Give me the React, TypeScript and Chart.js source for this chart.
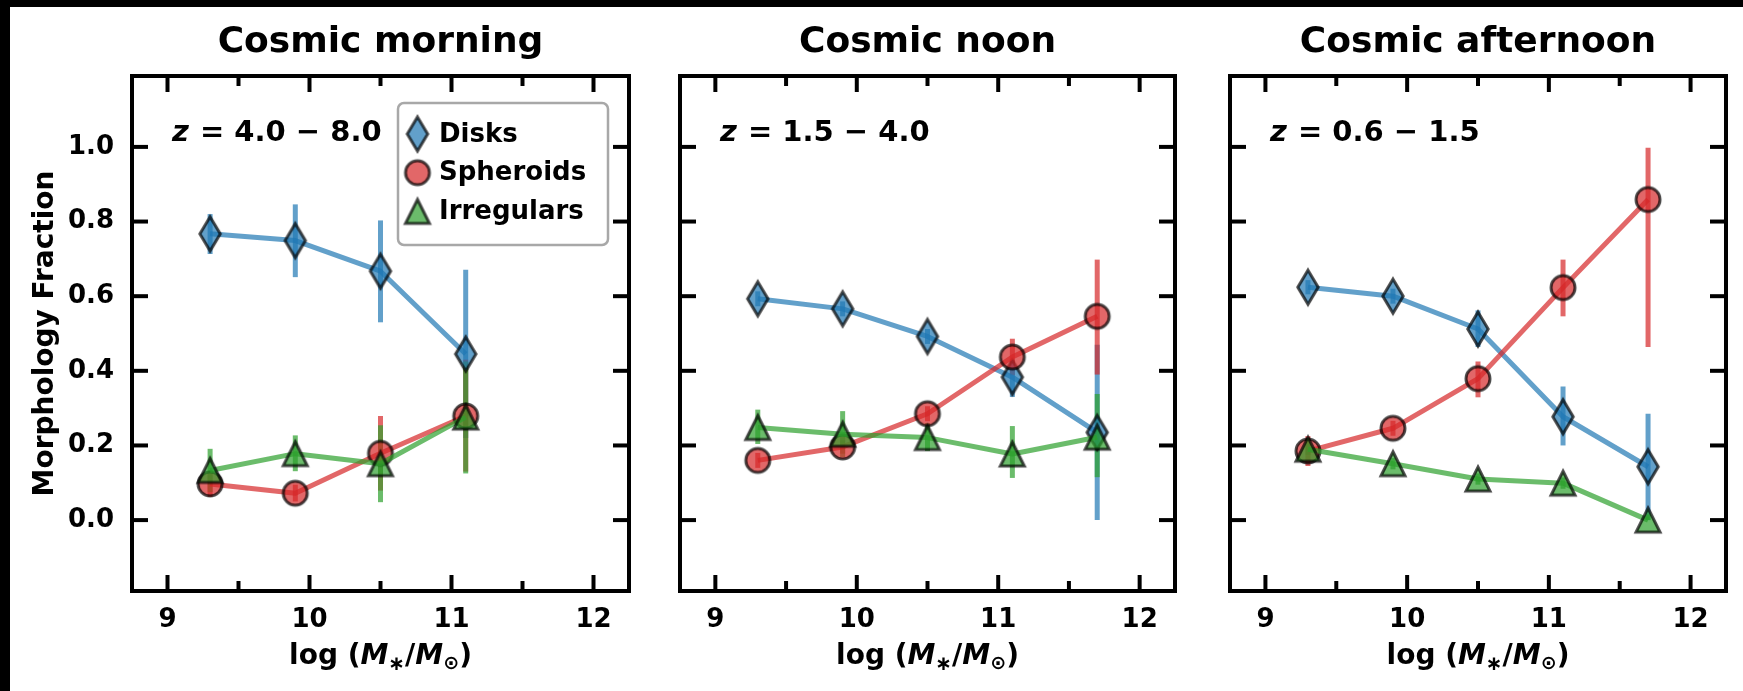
import React, { useEffect, useRef } from "react";
import { Chart, registerables } from "chart.js";
Chart.register(...registerables);

const FONT = "'DejaVu Sans', 'Liberation Sans', sans-serif";

// ---------- axes ----------
const massBins = [9.3, 9.9, 10.5, 11.1, 11.7];
const xMajorTicks = [9, 10, 11, 12];
const xMinorTicks = [9.5, 10.5, 11.5];
const yMajorTicks = [0, 0.2, 0.4, 0.6, 0.8, 1.0];
const xRange = [8.75, 12.25];
const yRange = [-0.19, 1.19];

// ---------- series ----------
const seriesNames = ["Disks", "Spheroids", "Irregulars"];
const seriesColors = ["31,119,180", "214,39,40", "44,160,44"];
const seriesMarkers = ["thinDiamond", "circle", "triangle"];

const panelTitles = ["Cosmic morning", "Cosmic noon", "Cosmic afternoon"];
const panelRedshifts = ["4.0 − 8.0", "1.5 − 4.0", "0.6 − 1.5"];

// Cosmic morning (z = 4.0 - 8.0)
const morningDisks = [0.767, 0.749, 0.667, 0.445];
const morningDisksLo = [0.713, 0.651, 0.53, 0.22];
const morningDisksHi = [0.82, 0.846, 0.803, 0.671];
const morningSpheroids = [0.097, 0.072, 0.179, 0.279];
const morningSpheroidsLo = [0.062, 0.05, 0.079, 0.13];
const morningSpheroidsHi = [0.132, 0.095, 0.279, 0.43];
const morningIrregulars = [0.133, 0.178, 0.151, 0.276];
const morningIrregularsLo = [0.075, 0.131, 0.048, 0.125];
const morningIrregularsHi = [0.191, 0.227, 0.254, 0.425];

// Cosmic noon (z = 1.5 - 4.0)
const noonDisks = [0.593, 0.566, 0.492, 0.383, 0.235];
const noonDisksLo = [0.573, 0.546, 0.472, 0.33, 0.0];
const noonDisksHi = [0.613, 0.586, 0.512, 0.43, 0.47];
const noonSpheroids = [0.16, 0.196, 0.285, 0.437, 0.546];
const noonSpheroidsLo = [0.14, 0.178, 0.265, 0.388, 0.39];
const noonSpheroidsHi = [0.18, 0.214, 0.305, 0.486, 0.698];
const noonIrregulars = [0.248, 0.23, 0.221, 0.177, 0.222];
const noonIrregularsLo = [0.204, 0.169, 0.185, 0.113, 0.115];
const noonIrregularsHi = [0.296, 0.292, 0.26, 0.252, 0.338];

// Cosmic afternoon (z = 0.6 - 1.5)
const afternoonDisks = [0.624, 0.6, 0.512, 0.277, 0.143];
const afternoonDisksLo = [0.605, 0.58, 0.464, 0.2, 0.0];
const afternoonDisksHi = [0.643, 0.62, 0.562, 0.358, 0.285];
const afternoonSpheroids = [0.185, 0.246, 0.379, 0.623, 0.859];
const afternoonSpheroidsLo = [0.145, 0.226, 0.329, 0.546, 0.464];
const afternoonSpheroidsHi = [0.225, 0.266, 0.425, 0.698, 0.998];
const afternoonIrregulars = [0.19, 0.151, 0.11, 0.099, 0.0];
const afternoonIrregularsLo = [0.175, 0.136, 0.095, 0.084, 0.0];
const afternoonIrregularsHi = [0.205, 0.166, 0.125, 0.114, 0.015];

const panelSeries = [
  [
    [morningDisks, morningDisksLo, morningDisksHi],
    [morningSpheroids, morningSpheroidsLo, morningSpheroidsHi],
    [morningIrregulars, morningIrregularsLo, morningIrregularsHi],
  ],
  [
    [noonDisks, noonDisksLo, noonDisksHi],
    [noonSpheroids, noonSpheroidsLo, noonSpheroidsHi],
    [noonIrregulars, noonIrregularsLo, noonIrregularsHi],
  ],
  [
    [afternoonDisks, afternoonDisksLo, afternoonDisksHi],
    [afternoonSpheroids, afternoonSpheroidsLo, afternoonSpheroidsHi],
    [afternoonIrregulars, afternoonIrregularsLo, afternoonIrregularsHi],
  ],
];

// ---------- layout (page pixels) ----------
const PAGE_H = 691;
const panelBoxes = [
  { canvasLeft: 0, width: 650, yAxisWidth: 132, padRight: 21 },
  { canvasLeft: 650, width: 550, yAxisWidth: 30, padRight: 25 },
  { canvasLeft: 1200, width: 543, yAxisWidth: 30, padRight: 16.5 },
];
const PLOT_TOP = 76;
const X_AXIS_H = 100;

function makeMarker(kind: string, rgb: string): HTMLCanvasElement {
  const c = document.createElement("canvas");
  const S = 50;
  c.width = S;
  c.height = S;
  const g = c.getContext("2d")!;
  g.translate(S / 2, S / 2);
  g.beginPath();
  if (kind === "thinDiamond") {
    g.moveTo(0, -17);
    g.lineTo(10.2, 0);
    g.lineTo(0, 17);
    g.lineTo(-10.2, 0);
    g.closePath();
  } else if (kind === "circle") {
    g.arc(0, 0, 12, 0, Math.PI * 2);
  } else {
    g.moveTo(0, -12);
    g.lineTo(12, 12);
    g.lineTo(-12, 12);
    g.closePath();
  }
  g.fillStyle = `rgba(${rgb},0.7)`;
  g.fill();
  g.lineWidth = 3;
  g.lineJoin = "miter";
  g.miterLimit = 10;
  g.strokeStyle = "rgba(0,0,0,0.7)";
  g.stroke();
  return c;
}

function drawSegments(ctx: CanvasRenderingContext2D, segs: any[], cx: number, baseY: number) {
  let total = 0;
  segs.forEach((s) => {
    ctx.font = s.font;
    s.w = ctx.measureText(s.t).width;
    total += s.w + (s.gap || 0);
  });
  let x = cx - total / 2;
  ctx.textAlign = "left";
  ctx.textBaseline = "alphabetic";
  segs.forEach((s) => {
    ctx.font = s.font;
    ctx.fillText(s.t, x, baseY + (s.dy || 0));
    x += s.w + (s.gap || 0);
  });
}

function makeDecorPlugin(p: number, markers: HTMLCanvasElement[]) {
  return {
    id: "decor" + p,
    beforeDatasetsDraw(chart: any) {
      const { ctx, chartArea, scales } = chart;
      ctx.save();
      ctx.beginPath();
      ctx.rect(chartArea.left, chartArea.top, chartArea.right - chartArea.left, chartArea.bottom - chartArea.top);
      ctx.clip();
      chart.data.datasets.forEach((ds: any) => {
        ctx.strokeStyle = `rgba(${ds.rgb},0.7)`;
        ctx.lineWidth = 5;
        ctx.lineCap = "butt";
        ds.data.forEach((pt: any, i: number) => {
          const x = scales.x.getPixelForValue(pt.x);
          ctx.beginPath();
          ctx.moveTo(x, scales.y.getPixelForValue(ds.errLo[i]));
          ctx.lineTo(x, scales.y.getPixelForValue(ds.errHi[i]));
          ctx.stroke();
        });
      });
      ctx.restore();
    },
    afterDraw(chart: any) {
      const { ctx, chartArea, scales } = chart;
      const { left, right, top, bottom } = chartArea;
      const cx = (left + right) / 2;
      ctx.save();
      // spines
      ctx.strokeStyle = "#000";
      ctx.lineWidth = 4;
      ctx.lineJoin = "miter";
      ctx.strokeRect(left, top, right - left, bottom - top);
      // ticks (inward, all sides)
      ctx.lineCap = "butt";
      const tick = (x1: number, y1: number, x2: number, y2: number) => {
        ctx.beginPath();
        ctx.moveTo(x1, y1);
        ctx.lineTo(x2, y2);
        ctx.stroke();
      };
      xMajorTicks.forEach((v) => {
        const x = scales.x.getPixelForValue(v);
        tick(x, bottom, x, bottom - 16);
        tick(x, top, x, top + 16);
      });
      xMinorTicks.forEach((v) => {
        const x = scales.x.getPixelForValue(v);
        tick(x, bottom, x, bottom - 10);
        tick(x, top, x, top + 10);
      });
      yMajorTicks.forEach((v) => {
        const y = scales.y.getPixelForValue(v);
        tick(left, y, left + 16, y);
        tick(right, y, right - 16, y);
      });
      ctx.fillStyle = "#000";
      // title
      ctx.font = `bold 36px ${FONT}`;
      ctx.textAlign = "center";
      ctx.textBaseline = "alphabetic";
      ctx.fillText(panelTitles[p], cx, 52);
      // redshift annotation
      ctx.textAlign = "left";
      ctx.font = `italic bold 29px ${FONT}`;
      const zx = left + 40;
      const zy = top + 65;
      ctx.fillText("z", zx, zy);
      const zw = ctx.measureText("z").width;
      ctx.font = `bold 29px ${FONT}`;
      ctx.fillText(" = " + panelRedshifts[p], zx + zw + 1, zy);
      // x label
      ctx.fillStyle = "#000";
      drawSegments(
        ctx,
        [
          { t: "log (", font: `bold 28px ${FONT}` },
          { t: "M", font: `italic bold 28px ${FONT}` },
          { t: "∗", font: `bold 20px ${FONT}`, dy: 6 },
          { t: "/", font: `bold 28px ${FONT}` },
          { t: "M", font: `italic bold 28px ${FONT}` },
          { t: "⊙", font: `bold 19px ${FONT}`, dy: 5 },
          { t: ")", font: `bold 28px ${FONT}` },
        ],
        cx,
        bottom + 73
      );
      if (p === 0) {
        // y label
        ctx.save();
        ctx.translate(left - 86, (top + bottom) / 2);
        ctx.rotate(-Math.PI / 2);
        ctx.font = `bold 28px ${FONT}`;
        ctx.textAlign = "center";
        ctx.textBaseline = "middle";
        ctx.fillText("Morphology Fraction", 0, 0);
        ctx.restore();
        // legend
        const lx = left + 266;
        const ly = top + 27;
        const lw = 210;
        const lh = 142;
        ctx.beginPath();
        (ctx as any).roundRect(lx, ly, lw, lh, 6);
        ctx.fillStyle = "rgba(255,255,255,0.8)";
        ctx.fill();
        ctx.strokeStyle = "#a8a8a8";
        ctx.lineWidth = 2.5;
        ctx.stroke();
        ctx.fillStyle = "#000";
        ctx.font = `bold 26px ${FONT}`;
        ctx.textAlign = "left";
        ctx.textBaseline = "middle";
        chart.data.datasets.forEach((ds: any, k: number) => {
          const ry = ly + 31 + k * 38.7;
          ctx.drawImage(markers[k], lx + 19.5 - markers[k].width / 2, ry - markers[k].height / 2);
          ctx.fillText(ds.label, lx + 41, ry + 1);
        });
      }
      ctx.restore();
    },
  };
}

function buildConfig(p: number, markers: HTMLCanvasElement[]): any {
  const box = panelBoxes[p];
  const datasets = panelSeries[p].map((s, k) => ({
    label: seriesNames[k],
    rgb: seriesColors[k],
    errLo: s[1],
    errHi: s[2],
    data: s[0].map((v, i) => ({ x: massBins[i], y: v })),
    borderColor: `rgba(${seriesColors[k]},0.7)`,
    backgroundColor: `rgba(${seriesColors[k]},0.7)`,
    borderWidth: 5,
    borderJoinStyle: "round",
    pointStyle: markers[k],
    pointRadius: 12,
    pointHoverRadius: 12,
    fill: false,
    tension: 0,
    order: 3 - k,
  }));
  return {
    type: "line",
    data: { datasets },
    plugins: [makeDecorPlugin(p, markers)],
    options: {
      animation: false,
      responsive: false,
      events: [],
      layout: { padding: { left: 0, right: box.padRight, top: PLOT_TOP, bottom: 0 } },
      plugins: { legend: { display: false }, tooltip: { enabled: false }, title: { display: false } },
      scales: {
        x: {
          type: "linear",
          min: xRange[0],
          max: xRange[1],
          grid: { display: false },
          border: { display: false },
          afterBuildTicks: (axis: any) => {
            axis.ticks = xMajorTicks.map((v) => ({ value: v }));
          },
          afterFit: (axis: any) => {
            axis.height = X_AXIS_H;
          },
          ticks: {
            color: "#000",
            padding: 6,
            maxRotation: 0,
            font: { family: FONT, size: 26, weight: "bold" },
            callback: (v: any) => String(v),
          },
        },
        y: {
          type: "linear",
          min: yRange[0],
          max: yRange[1],
          grid: { display: false },
          border: { display: false },
          afterBuildTicks: (axis: any) => {
            axis.ticks = yMajorTicks.map((v) => ({ value: v }));
          },
          afterFit: (axis: any) => {
            axis.width = box.yAxisWidth;
          },
          ticks: {
            display: p === 0,
            color: "#000",
            padding: 10,
            font: { family: FONT, size: 26, weight: "bold" },
            callback: (v: any) => Number(v).toFixed(1),
          },
        },
      },
    },
  };
}

export default function App() {
  const r0 = useRef<HTMLCanvasElement>(null);
  const r1 = useRef<HTMLCanvasElement>(null);
  const r2 = useRef<HTMLCanvasElement>(null);
  const refs = [r0, r1, r2];

  useEffect(() => {
    const markers = seriesMarkers.map((m, k) => makeMarker(m, seriesColors[k]));
    const charts = refs.map((r, p) => new Chart(r.current as HTMLCanvasElement, buildConfig(p, markers)));
    return () => charts.forEach((c) => c.destroy());
  }, []);

  return (
    <div style={{ position: "absolute", left: 0, top: 0, width: 1743, height: PAGE_H, background: "#fff", overflow: "hidden" }}>
      {panelBoxes.map((b, p) => (
        <canvas
          key={p}
          ref={refs[p]}
          width={b.width}
          height={PAGE_H}
          style={{ position: "absolute", left: b.canvasLeft, top: 0, width: b.width, height: PAGE_H }}
        />
      ))}
      <div style={{ position: "absolute", left: 0, top: 0, width: 1743, height: 7, background: "#000" }} />
      <div style={{ position: "absolute", left: 0, top: 0, width: 10, height: PAGE_H, background: "#000" }} />
    </div>
  );
}
